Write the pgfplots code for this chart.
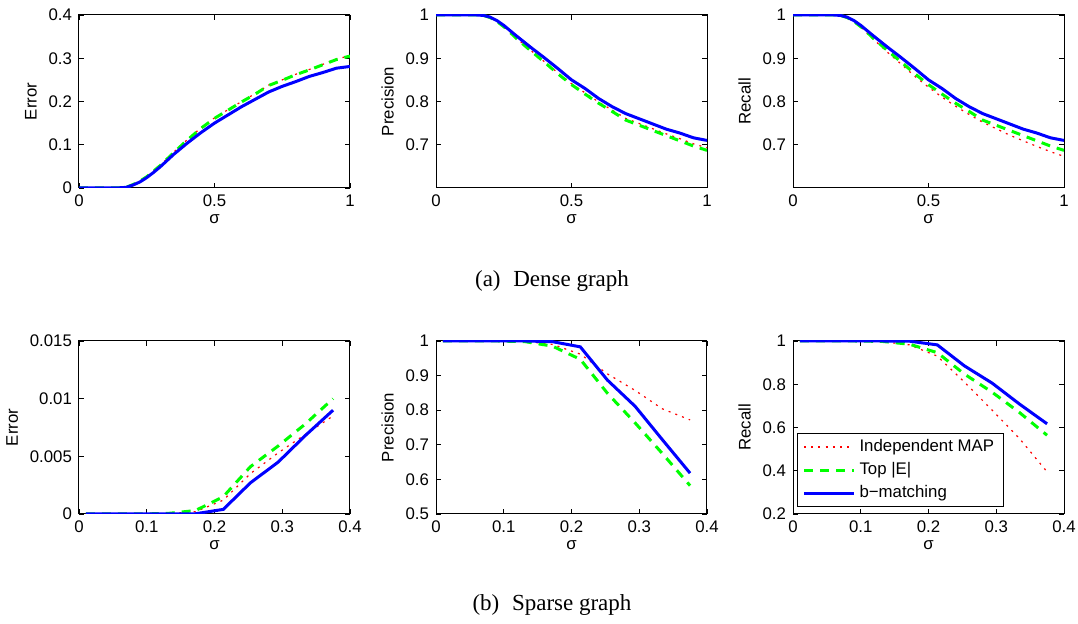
\documentclass[border=0pt]{standalone}
\usepackage{fontspec}
\setmainfont{Liberation Sans}
\newfontfamily\capfont{Liberation Serif}
\usepackage{pgfplots}
\pgfplotsset{compat=1.18}
\newcommand{\pf}{\fontsize{8.4}{9.6}\selectfont}
\pgfplotsset{
  mat/.style={
    scale only axis, width=135.5pt, height=86.5pt, anchor=south west,
    tick align=inside, major tick length=2.3pt,
    tick style={black, line width=0.4pt},
    axis line style={line width=0.5pt},
    every tick label/.append style={font=\pf, text=black},
    label style={font=\pf},
    scaled y ticks=false, scaled x ticks=false,
    xlabel={σ},
    xlabel style={yshift=3pt},
    ylabel style={yshift=-1pt},
    clip mode=individual,
  },
  red line/.style={red, line width=0.6pt, dash pattern=on 1pt off 2.6pt},
  green line/.style={green, line width=1.5pt, dash pattern=on 4.5pt off 3.5pt},
  blue line/.style={blue, line width=1.5pt},
}
\begin{document}
\begin{tikzpicture}
\path[use as bounding box] (0,0) rectangle (539pt,312pt);
% ---------- (a) Dense: Error
\begin{axis}[mat, at={(39.5pt,218pt)}, xmin=0, xmax=1, ymin=0, ymax=0.4,
  xtick={0,0.5,1}, xticklabels={0,0.5,1},
  ytick={0,0.1,0.2,0.3,0.4}, yticklabels={0,0.1,0.2,0.3,0.4}, ylabel={Error}]
\addplot[red line] coordinates {(0,0) (0.1,0) (0.15,0.0005) (0.175,0.002) (0.2,0.008) (0.225,0.016) (0.25,0.026) (0.275,0.039) (0.3,0.052) (0.35,0.083) (0.4,0.112) (0.45,0.139) (0.5,0.162) (0.55,0.181) (0.6,0.2) (0.65,0.218) (0.7,0.238) (0.75,0.25) (0.8,0.263) (0.85,0.274) (0.9,0.286) (0.95,0.298) (1,0.306)};
\addplot[green line] coordinates {(0,0) (0.1,0) (0.15,0.0005) (0.175,0.002) (0.2,0.008) (0.225,0.016) (0.25,0.026) (0.275,0.039) (0.3,0.052) (0.35,0.082) (0.4,0.111) (0.45,0.138) (0.5,0.161) (0.55,0.18) (0.6,0.199) (0.65,0.217) (0.7,0.237) (0.75,0.249) (0.8,0.262) (0.85,0.273) (0.9,0.285) (0.95,0.297) (1,0.305)};
\addplot[blue line] coordinates {(0,0) (0.1,0) (0.15,0.0005) (0.175,0.0015) (0.2,0.007) (0.225,0.014) (0.25,0.024) (0.275,0.036) (0.3,0.049) (0.35,0.078) (0.4,0.104) (0.45,0.128) (0.5,0.15) (0.55,0.169) (0.6,0.188) (0.65,0.205) (0.7,0.222) (0.75,0.235) (0.8,0.246) (0.85,0.258) (0.9,0.267) (0.95,0.277) (1,0.281)};
\end{axis}
% ---------- (a) Dense: Precision
\begin{axis}[mat, at={(218pt,218pt)}, xmin=0, xmax=1, ymin=0.6, ymax=1,
  xtick={0,0.5,1}, xticklabels={0,0.5,1},
  ytick={0.7,0.8,0.9,1}, yticklabels={0.7,0.8,0.9,1}, ylabel={Precision}]
\addplot[red line] coordinates {(0,1) (0.15,1) (0.175,0.999) (0.2,0.994) (0.225,0.985) (0.25,0.973) (0.275,0.96) (0.3,0.945) (0.35,0.918) (0.4,0.892) (0.45,0.866) (0.5,0.841) (0.55,0.82) (0.6,0.799) (0.65,0.78) (0.7,0.761) (0.75,0.749) (0.8,0.737) (0.85,0.725) (0.9,0.714) (0.95,0.702) (1,0.693)};
\addplot[green line] coordinates {(0,1) (0.15,1) (0.175,0.999) (0.2,0.994) (0.225,0.985) (0.25,0.973) (0.275,0.959) (0.3,0.944) (0.35,0.917) (0.4,0.891) (0.45,0.864) (0.5,0.839) (0.55,0.817) (0.6,0.796) (0.65,0.777) (0.7,0.757) (0.75,0.745) (0.8,0.733) (0.85,0.721) (0.9,0.709) (0.95,0.697) (1,0.687)};
\addplot[blue line] coordinates {(0,1) (0.15,1) (0.175,0.999) (0.2,0.995) (0.225,0.987) (0.25,0.976) (0.275,0.963) (0.3,0.95) (0.35,0.925) (0.4,0.901) (0.45,0.876) (0.5,0.85) (0.55,0.83) (0.6,0.807) (0.65,0.788) (0.7,0.772) (0.75,0.76) (0.8,0.748) (0.85,0.736) (0.9,0.727) (0.95,0.716) (1,0.71)};
\end{axis}
% ---------- (a) Dense: Recall
\begin{axis}[mat, at={(396.5pt,218pt)}, xmin=0, xmax=1, ymin=0.6, ymax=1,
  xtick={0,0.5,1}, xticklabels={0,0.5,1},
  ytick={0.7,0.8,0.9,1}, yticklabels={0.7,0.8,0.9,1}, ylabel={Recall}]
\addplot[red line] coordinates {(0,1) (0.15,1) (0.175,0.999) (0.2,0.994) (0.225,0.984) (0.25,0.972) (0.275,0.957) (0.3,0.942) (0.35,0.913) (0.4,0.886) (0.45,0.858) (0.5,0.833) (0.55,0.81) (0.6,0.789) (0.65,0.77) (0.7,0.752) (0.75,0.737) (0.8,0.722) (0.85,0.709) (0.9,0.696) (0.95,0.684) (1,0.673)};
\addplot[green line] coordinates {(0,1) (0.15,1) (0.175,0.999) (0.2,0.994) (0.225,0.985) (0.25,0.973) (0.275,0.959) (0.3,0.944) (0.35,0.917) (0.4,0.891) (0.45,0.864) (0.5,0.839) (0.55,0.817) (0.6,0.796) (0.65,0.777) (0.7,0.757) (0.75,0.745) (0.8,0.733) (0.85,0.721) (0.9,0.709) (0.95,0.697) (1,0.687)};
\addplot[blue line] coordinates {(0,1) (0.15,1) (0.175,0.999) (0.2,0.995) (0.225,0.987) (0.25,0.976) (0.275,0.963) (0.3,0.95) (0.35,0.925) (0.4,0.901) (0.45,0.876) (0.5,0.85) (0.55,0.83) (0.6,0.807) (0.65,0.788) (0.7,0.772) (0.75,0.76) (0.8,0.748) (0.85,0.736) (0.9,0.727) (0.95,0.716) (1,0.71)};
\end{axis}
% ---------- (b) Sparse: Error
\begin{axis}[mat, at={(39.5pt,55pt)}, xmin=0, xmax=0.4, ymin=0, ymax=0.015,
  xtick={0,0.1,0.2,0.3,0.4}, xticklabels={0,0.1,0.2,0.3,0.4},
  ytick={0,0.005,0.01,0.015}, yticklabels={0,0.005,0.01,0.015}, ylabel={Error}]
\addplot[red line] coordinates {(0.01,0) (0.0506,0) (0.091,0) (0.1317,0.00003) (0.172,0.0002) (0.213,0.0012) (0.253,0.0035) (0.294,0.0053) (0.334,0.0069) (0.375,0.0085)};
\addplot[green line] coordinates {(0.01,0) (0.0506,0) (0.091,0) (0.1317,0.00005) (0.172,0.0003) (0.213,0.0015) (0.253,0.0041) (0.294,0.0059) (0.334,0.0078) (0.375,0.0100)};
\addplot[blue line] coordinates {(0.01,0) (0.0506,0) (0.091,0) (0.1317,0) (0.172,0.00002) (0.213,0.0004) (0.253,0.0027) (0.294,0.0045) (0.334,0.0068) (0.375,0.0090)};
\end{axis}
% ---------- (b) Sparse: Precision
\begin{axis}[mat, at={(218pt,55pt)}, xmin=0, xmax=0.4, ymin=0.5, ymax=1,
  xtick={0,0.1,0.2,0.3,0.4}, xticklabels={0,0.1,0.2,0.3,0.4},
  ytick={0.5,0.6,0.7,0.8,0.9,1}, yticklabels={0.5,0.6,0.7,0.8,0.9,1}, ylabel={Precision}]
\addplot[red line] coordinates {(0.01,1) (0.0506,1) (0.091,1) (0.1317,0.999) (0.172,0.99) (0.213,0.962) (0.253,0.905) (0.294,0.857) (0.334,0.804) (0.375,0.772)};
\addplot[green line] coordinates {(0.01,1) (0.0506,1) (0.091,1) (0.1317,0.998) (0.172,0.985) (0.213,0.947) (0.253,0.849) (0.294,0.763) (0.334,0.675) (0.375,0.582)};
\addplot[blue line] coordinates {(0.01,1) (0.0506,1) (0.091,1) (0.1317,1) (0.172,0.998) (0.213,0.983) (0.253,0.887) (0.294,0.811) (0.334,0.715) (0.375,0.618)};
\end{axis}
% ---------- (b) Sparse: Recall
\begin{axis}[mat, at={(396.5pt,55pt)}, xmin=0, xmax=0.4, ymin=0.2, ymax=1,
  xtick={0,0.1,0.2,0.3,0.4}, xticklabels={0,0.1,0.2,0.3,0.4},
  ytick={0.2,0.4,0.6,0.8,1}, yticklabels={0.2,0.4,0.6,0.8,1}, ylabel={Recall},
  legend style={at={(0.015,0.04)}, anchor=south west, draw=black, line width=0.5pt,
    font=\pf, inner xsep=2.5pt, inner ysep=0.8pt, row sep=0pt,
    cells={anchor=west}},
  legend image code/.code={\draw[#1] (0pt,0pt) -- (25pt,0pt);}]
\addplot[red line] coordinates {(0.01,1) (0.0506,1) (0.091,1) (0.1317,0.997) (0.172,0.982) (0.213,0.93) (0.253,0.81) (0.294,0.68) (0.334,0.55) (0.375,0.395)};
\addplot[green line] coordinates {(0.01,1) (0.0506,1) (0.091,1) (0.1317,0.998) (0.172,0.985) (0.213,0.946) (0.253,0.847) (0.294,0.763) (0.334,0.67) (0.375,0.564)};
\addplot[blue line] coordinates {(0.01,1) (0.0506,1) (0.091,1) (0.1317,1) (0.172,0.999) (0.213,0.982) (0.253,0.885) (0.294,0.805) (0.334,0.709) (0.375,0.617)};
\legend{Independent MAP, Top |E|, b−matching}
\end{axis}
% captions
\node[font=\capfont\fontsize{11.5}{13}\selectfont] at (276pt,171.5pt) {(a)\hspace{0.55em}Dense graph};
\node[font=\capfont\fontsize{11.5}{13}\selectfont] at (276pt,9.5pt) {(b)\hspace{0.55em}Sparse graph};
\end{tikzpicture}
\end{document}
